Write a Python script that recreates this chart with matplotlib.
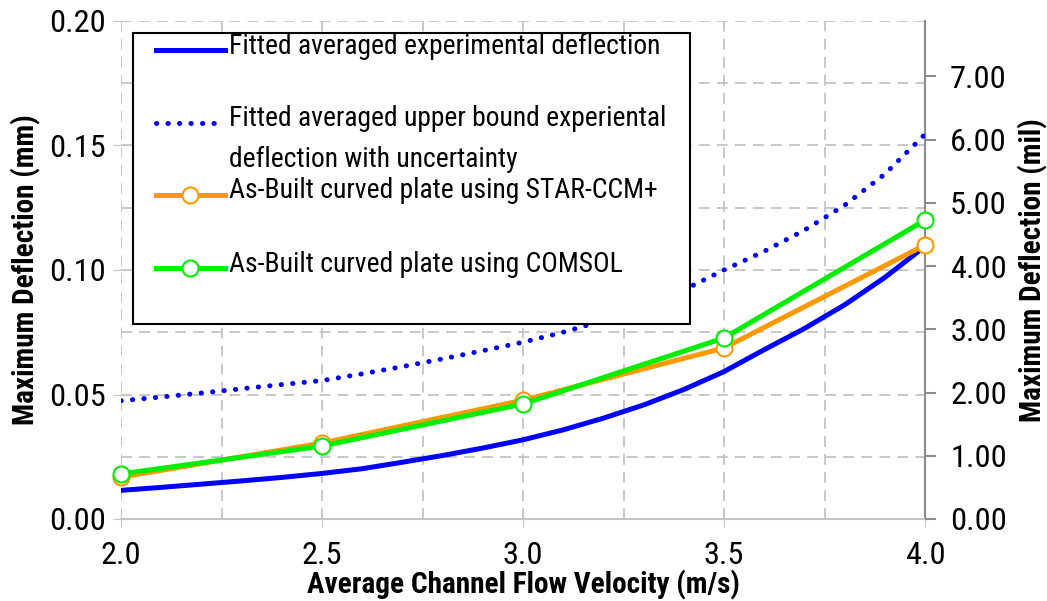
import numpy as np
import matplotlib
matplotlib.use("Agg")
import matplotlib.pyplot as plt
from matplotlib import font_manager
from matplotlib.lines import Line2D
from matplotlib.patches import Rectangle
from matplotlib.ticker import MultipleLocator, FormatStrFormatter

# fitted curves (m/s vs mm)
v_fit = [2.0, 2.1, 2.2, 2.3, 2.4, 2.5, 2.6, 2.7, 2.8, 2.9, 3.0,
         3.1, 3.2, 3.3, 3.4, 3.5, 3.6, 3.7, 3.8, 3.9, 4.0]
exp_fit = [0.0115, 0.0127, 0.0140, 0.0153, 0.0167, 0.0183, 0.0202, 0.0228, 0.0255, 0.0285, 0.0318,
           0.0358, 0.0405, 0.0458, 0.0520, 0.0592, 0.0680, 0.0765, 0.0860, 0.0970, 0.1095]
upper_fit = [0.0475, 0.0490, 0.0506, 0.0523, 0.0540, 0.0556, 0.0583, 0.0612, 0.0643, 0.0676, 0.0710,
             0.0750, 0.0798, 0.0855, 0.0920, 0.1000, 0.1075, 0.1160, 0.1260, 0.1385, 0.1545]

# simulation points
v_sim = [2.0, 2.5, 3.0, 3.5, 4.0]
star_ccm = [0.0168, 0.0305, 0.0477, 0.0687, 0.1100]
comsol = [0.0181, 0.0293, 0.0462, 0.0727, 0.1200]

labels = ['Fitted averaged experimental deflection',
          'Fitted averaged upper bound experiental',
          'deflection with uncertainty',
          'As-Built curved plate using STAR-CCM+',
          'As-Built curved plate using COMSOL']

MM_PER_MIL = 0.0254

# look for a narrow sans font, fall back to Liberation Sans
stretch = 'normal'
family = 'Liberation Sans'
names = {f.name for f in font_manager.fontManager.ttflist}
for cand in ['Liberation Sans Narrow', 'DejaVu Sans Condensed', 'Roboto Condensed',
             'Open Sans Condensed', 'Noto Sans Condensed']:
    if cand in names:
        family = cand
        break
else:
    for f in font_manager.fontManager.ttflist:
        if f.stretch in ('condensed', 'semi-condensed', 'extra-condensed') and f.name in (
                'Noto Sans', 'Open Sans', 'Roboto', 'DejaVu Sans', 'Liberation Sans'):
            family, stretch = f.name, f.stretch
            break
plt.rcParams['font.family'] = [family, 'DejaVu Sans']
plt.rcParams['font.stretch'] = stretch

fig = plt.figure(figsize=(10.47, 6.01), dpi=100)

# size the text so the first legend line is as wide as in the picture (431 px)
r = fig.canvas.get_renderer()
t = fig.text(0, 0, labels[0], fontsize=20)
w = t.get_window_extent(r).width
t.remove()
fs = 20 * 431 / w
fs_tick = fs * 1.17
fs_lab = fs * 1.06

LW = 3.6
MS = 11.5
MEW = 1.5
dots = (0, (0.05, 2.25))


def px(x, y):
    return x / 1047, 1 - y / 601


ax = fig.add_axes([121/1047, 82/601, 804/1047, 498/601])

ax.plot(v_fit, upper_fit, color='#0000FF', lw=LW, linestyle=dots,
        dash_capstyle='round', zorder=3)
ax.plot(v_fit, exp_fit, color='#0000FF', lw=LW, zorder=4)
ax.plot(v_sim, star_ccm, color='#FF9900', lw=LW, marker='o', ms=MS, mfc='white', mec='#FF9900',
        mew=MEW, zorder=5, clip_on=False)
ax.plot(v_sim, comsol, color='#00EE00', lw=LW, marker='o', ms=MS, mfc='white', mec='#00EE00',
        mew=MEW, zorder=6, clip_on=False)

ax.set_xlim(2.0, 4.0)
ax.set_ylim(0, 0.2)
ax.xaxis.set_major_locator(MultipleLocator(0.5))
ax.xaxis.set_minor_locator(MultipleLocator(0.25))
ax.yaxis.set_major_locator(MultipleLocator(0.05))
ax.yaxis.set_minor_locator(MultipleLocator(0.025))
ax.xaxis.set_major_formatter(FormatStrFormatter('%.1f'))
ax.yaxis.set_major_formatter(FormatStrFormatter('%.2f'))
ax.grid(True, which='both', color='#c4c4c4', linestyle=(0, (6, 4)), lw=1.3)
ax.set_axisbelow(True)
for s in ['left', 'top']:
    ax.spines[s].set_visible(False)
ax.spines['bottom'].set_color('#c4c4c4')
ax.spines['bottom'].set_linewidth(1.5)
ax.spines['right'].set_color('#8c8c8c')
ax.spines['right'].set_linewidth(1.5)
ax.tick_params(axis='both', which='major', labelsize=fs_tick, color='#c4c4c4', direction='inout', length=12)
ax.tick_params(axis='both', which='minor', length=0)
ax.tick_params(axis='x', pad=10)
ax.tick_params(axis='y', pad=5)

ax.set_xlabel('Average Channel Flow Velocity (m/s)', fontsize=fs_lab, fontweight='bold', labelpad=0)
ax.set_ylabel('Maximum Deflection (mm)', fontsize=fs_lab, fontweight='bold', labelpad=6)

ax2 = ax.twinx()
ax2.set_ylim(0, 0.2 / MM_PER_MIL)
ax2.yaxis.set_major_locator(MultipleLocator(1.0))
ax2.yaxis.set_major_formatter(FormatStrFormatter('%.2f'))
for s in ['left', 'top', 'bottom', 'right']:
    ax2.spines[s].set_visible(False)
ax2.tick_params(axis='y', labelsize=fs_tick, color='#8c8c8c', direction='out', length=8, width=1.5, pad=10)
ax2.set_ylabel('Maximum Deflection (mil)', fontsize=fs_lab, fontweight='bold', labelpad=8)

# legend drawn by hand to keep the original spacing
x0, y0 = px(133, 324)
x1, y1 = px(690, 33)
fig.patches.append(Rectangle((x0, y0), x1 - x0, y1 - y0, transform=fig.transFigure,
                             facecolor='white', edgecolor='black', lw=1.5, zorder=10))
hx = [px(156, 0)[0], px(225, 0)[0]]
mx = px(190, 0)[0]
handle_y = [50, 123, None, 195, 268]
text_y = [46, 119, 159, 191, 264]
styles = [dict(color='#0000FF', lw=LW),
          dict(color='#0000FF', lw=LW, linestyle=dots, dash_capstyle='round'),
          None,
          dict(color='#FF9900', lw=LW),
          dict(color='#00EE00', lw=LW)]
for lab, hy, ty, st in zip(labels, handle_y, text_y, styles):
    if hy is not None:
        yy = px(0, hy)[1]
        fig.lines.append(Line2D(hx, [yy, yy], transform=fig.transFigure, zorder=11, **st))
        if st['color'] != '#0000FF':
            fig.lines.append(Line2D([mx], [yy], transform=fig.transFigure, marker='o', ms=MS,
                                    mfc='white', mec=st['color'], mew=MEW, zorder=12))
    tx, tyy = px(229, ty)
    fig.text(tx, tyy, lab, fontsize=fs, va='center', ha='left', zorder=12)

fig.savefig('out.png', dpi=100)
